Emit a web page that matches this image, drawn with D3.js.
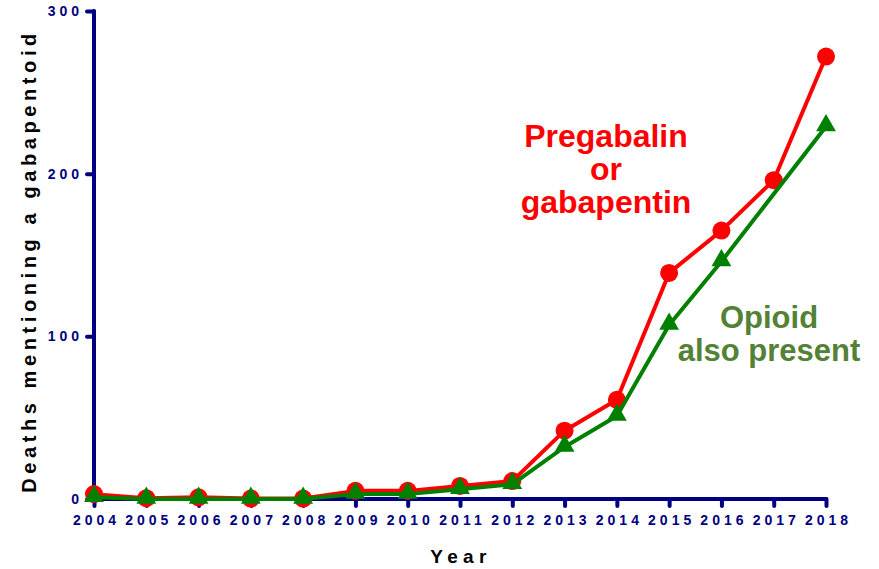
<!DOCTYPE html>
<html><head><meta charset="utf-8">
<script src="https://cdn.jsdelivr.net/npm/d3@7"></script>
<style>body{margin:0;background:#fff}svg{display:block}</style>
</head><body>
<svg id="c" width="879" height="569"></svg>
<script>
const years = [2004,2005,2006,2007,2008,2009,2010,2011,2012,2013,2014,2015,2016,2017,2018];
const gabapentoidDeaths = [3,0.5,1,0.3,0.3,5,5,8,11,42,61,139,165,196,272];
const opioidPresent = [1,0,0,0,0,3,3,6,9,32,51,107,146,null,229];
const yTicks = [0,100,200,300];

const svg = d3.select("#c");
const navy = "#000080", red = "#ff0000", green = "#008000";
const FONT = "Liberation Sans, Arial, sans-serif";
const x = d3.scaleLinear().domain([2004,2018]).range([94,826]);
const y = d3.scaleLinear().domain([0,300]).range([499,11]);

// axes
const xAxis = svg.append("g").attr("transform","translate(0,499)")
  .call(d3.axisBottom(x).tickValues(years).tickFormat(d3.format("d")).tickSize(7).tickPadding(9));
const yAxis = svg.append("g").attr("transform","translate(94,0)")
  .call(d3.axisLeft(y).tickValues(yTicks).tickSize(7).tickPadding(4));
[xAxis,yAxis].forEach(g=>{
  g.select(".domain").remove();
  g.selectAll(".tick line").attr("stroke",navy).attr("stroke-width",4).attr("stroke-linecap","round");
  g.selectAll(".tick text").attr("fill",navy).attr("font-family",FONT)
   .attr("font-weight","bold").attr("font-size",14).style("letter-spacing","4px");
});
xAxis.selectAll(".tick text").attr("dx","2px");
svg.append("line").attr("x1",x(2004)).attr("x2",x(2018)).attr("y1",y(0)).attr("y2",y(0))
  .attr("stroke",navy).attr("stroke-width",4).attr("stroke-linecap","round");
svg.append("line").attr("x1",x(2004)).attr("x2",x(2004)).attr("y1",y(0)).attr("y2",y(300))
  .attr("stroke",navy).attr("stroke-width",4).attr("stroke-linecap","round");

// titles
svg.append("text").attr("x",461).attr("y",563).attr("text-anchor","middle")
  .attr("font-family",FONT).attr("font-weight","bold").attr("font-size",19)
  .style("letter-spacing","5.3px").text("Year");
svg.append("text").attr("transform","translate(36,261) rotate(-90)").attr("text-anchor","middle")
  .attr("font-family",FONT).attr("font-weight","bold").attr("font-size",20)
  .style("letter-spacing","4.6px").text("Deaths mentioning a gabapentoid");

// lines
const pts = vals => years.map((yr,i)=>[yr,vals[i]]).filter(d=>d[1]!=null);
const line = d3.line().x(d=>x(d[0])).y(d=>y(d[1]));
svg.append("path").datum(pts(gabapentoidDeaths)).attr("d",line).attr("fill","none")
  .attr("stroke",red).attr("stroke-width",4).attr("stroke-linejoin","round");
svg.selectAll("circle.r").data(pts(gabapentoidDeaths)).join("circle").attr("class","r")
  .attr("cx",d=>x(d[0])).attr("cy",d=>y(d[1])).attr("r",9).attr("fill",red);
svg.append("path").datum(pts(opioidPresent)).attr("d",line).attr("fill","none")
  .attr("stroke",green).attr("stroke-width",4).attr("stroke-linejoin","round");
const tri = d3.symbol().type(d3.symbolTriangle).size(170);
svg.selectAll("path.g").data(pts(opioidPresent)).join("path").attr("class","g")
  .attr("d",tri).attr("transform",d=>`translate(${x(d[0])},${y(d[1])-1})`).attr("fill",green);

// annotations
const ann = (lines, cx, y0, dy, col, fs) => {
  lines.forEach((s,i)=>svg.append("text").attr("text-anchor","middle").attr("fill",col)
    .attr("font-family",FONT).attr("font-weight","bold").attr("font-size",fs)
    .attr("x",cx).attr("y",y0+i*dy).text(s));
};
ann(["Pregabalin","or","gabapentin"], 606, 147, 33, red, 32);
ann(["Opioid","also present"], 769, 328, 33, "#538135", 31);
</script>
</body></html>
